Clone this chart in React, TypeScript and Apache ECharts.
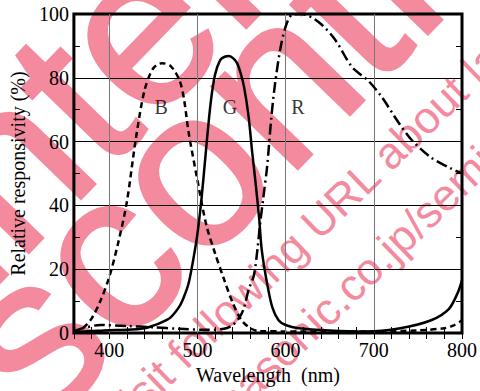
import React, { useEffect, useRef } from 'react';
import * as echarts from 'echarts';

// Blue channel (dashed)
const wlB = [360, 370, 380, 390, 400, 410, 420, 430, 440, 450, 460, 470, 480, 485, 490, 500, 510, 520, 530, 540, 550, 560, 570, 600, 650, 700, 750, 780, 790, 800];
const valB = [0.3, 1.5, 4.5, 10, 17.5, 28, 41, 60.5, 76, 83, 84.6, 83.6, 79, 73, 63, 48, 34, 25, 17, 9.5, 4, 1.5, 0.6, 0.5, 0.4, 0.5, 0.8, 1.5, 2.3, 4];

// Green channel (solid)
const wlG = [360, 380, 400, 420, 440, 450, 460, 470, 480, 485, 490, 495, 500, 505, 510, 515, 520, 526, 531, 536, 541, 545, 549, 553, 558, 562, 566, 570, 573, 579, 585, 592, 600, 615, 650, 690, 730, 765, 785, 795, 800];
const valG = [0.3, 0.6, 0.9, 1, 1.5, 2.3, 3.4, 5, 8.5, 11.5, 15.5, 22.5, 31, 43, 58, 72, 81, 85.6, 86.6, 86.8, 86, 84.6, 81.5, 77, 68, 57, 47, 36, 26, 15.6, 8, 4, 2.5, 1.5, 0.8, 0.5, 1.5, 4, 7.5, 12.5, 16.5];

// Red channel (dash-dot)
const wlR = [360, 370, 390, 420, 450, 480, 510, 530, 540, 548, 553, 558, 564, 568, 571, 575, 579, 584, 588, 594, 600, 607, 618, 637, 656, 675, 694, 709, 728, 743, 765, 788, 800];
const valR = [0.5, 1.5, 2.5, 2.2, 1.8, 1.3, 1, 1.3, 2.5, 5, 8, 13.5, 18, 26, 34, 43, 52, 68, 78, 89, 96, 99.7, 100, 97.6, 92, 83.5, 79, 74, 66, 60.5, 55, 51.5, 50];

// Curve labels
const labelNames = ['B', 'G', 'R'];
const labelX = [459, 537, 614];
const labelY = [71, 71, 71];

// Vertical grid lines
const vGrid = [400, 500, 600, 700];

const serif = '"Liberation Serif", "Times New Roman", serif';
const sans = '"Liberation Sans", Arial, sans-serif';
const pink = '#f48a9e';

const zip = (xs: number[], ys: number[]) => xs.map((x, i) => [x, ys[i]]);
const deg = Math.PI / 180;

const wmText = (text: string, x: number, y: number, angle: number, size: number, sw: number) => ({
  type: 'text', x, y, rotation: angle * deg, z: 1, silent: true,
  style: {
    text, fontSize: size, fontFamily: sans, fill: pink, stroke: sw > 0 ? pink : undefined, lineWidth: sw,
    textAlign: 'left', textVerticalAlign: 'middle', align: 'left', verticalAlign: 'middle',
  },
});

export default function App() {
  const ref = useRef<HTMLDivElement>(null);
  useEffect(() => {
    if (!ref.current) return;
    const chart = echarts.init(ref.current, undefined, { renderer: 'svg' });
    const tickInside = { show: true, inside: true, length: 6, lineStyle: { color: '#000', width: 1 } };
    const option: any = {
      animation: false,
      grid: { left: 73.5, right: 16, top: 14, bottom: 58, show: true, borderColor: '#000', borderWidth: 3, backgroundColor: 'transparent', z: 3 },
      xAxis: [
        {
          type: 'value', min: 360, max: 800, interval: 20, position: 'bottom', z: 3,
          axisLine: { show: false }, axisTick: tickInside,
          axisLabel: { formatter: (v: number) => (v % 100 === 0 ? String(v) : ''), color: '#000', fontFamily: serif, fontSize: 20, margin: 7 },
          splitLine: { show: false },
          name: 'Wavelength  (nm)', nameLocation: 'middle', nameGap: 32,
          nameTextStyle: { color: '#000', fontFamily: serif, fontSize: 20 },
        },
        {
          type: 'value', min: 360, max: 800, interval: 20, position: 'top', z: 3,
          axisLine: { show: false }, axisTick: tickInside, axisLabel: { show: false }, splitLine: { show: false },
        },
      ],
      yAxis: [
        {
          type: 'value', min: 0, max: 100, interval: 20, position: 'left', z: 3,
          axisLine: { show: false }, axisTick: tickInside,
          minorTick: { show: true, splitNumber: 2, length: 6, lineStyle: { color: '#000', width: 1 } },
          splitLine: { show: true, lineStyle: { color: '#000', width: 1.2 } },
          axisLabel: { color: '#000', fontFamily: serif, fontSize: 20, margin: 5 },
          name: 'Relative responsivity (%)', nameLocation: 'middle', nameGap: 35, nameRotate: 90,
          nameTextStyle: { color: '#000', fontFamily: serif, fontSize: 20 },
        },
        {
          type: 'value', min: 0, max: 100, interval: 10, position: 'right', z: 3,
          axisLine: { show: false }, axisTick: tickInside, axisLabel: { show: false }, splitLine: { show: false },
        },
      ],
      series: [
        {
          type: 'line', name: 'B', data: zip(wlB, valB), smooth: 0.3, showSymbol: false, z: 4,
          lineStyle: { color: '#000', width: 2.5, type: [6, 4] },
          markLine: {
            silent: true, symbol: ['none', 'none'], label: { show: false },
            lineStyle: { color: '#777', width: 1, type: 'solid' },
            data: vGrid.map((v) => ({ xAxis: v })),
          },
        },
        {
          type: 'line', name: 'G', data: zip(wlG, valG), smooth: 0.3, showSymbol: false, z: 5,
          lineStyle: { color: '#000', width: 2.5, type: 'solid' },
        },
        {
          type: 'line', name: 'R', data: zip(wlR, valR), smooth: 0.3, showSymbol: false, z: 5,
          lineStyle: { color: '#000', width: 2.5, type: [11, 4, 2, 4] },
        },
        {
          type: 'scatter', data: labelX.map((x, i) => [x, labelY[i], labelNames[i]]),
          symbol: 'circle', symbolSize: 1, itemStyle: { color: 'transparent' }, z: 6,
          label: { show: true, position: 'inside', formatter: (p: any) => p.data[2], color: '#000', fontFamily: serif, fontSize: 20 },
        },
      ],
      graphic: {
        elements: [
          wmText('Maintenance/', -290, 470, 46, 225, 3),
          wmText('Discontinued', -160, 530, 46, 225, 3),
          wmText('Please visit following URL about latest information.', 4.5, 524.5, 44, 44.5, 0),
          wmText('http://panasonic.co.jp/semicon/e-index.html', 107.6, 520.6, 44, 44.5, 0),
        ],
      },
    };
    chart.setOption(option);
    return () => chart.dispose();
  }, []);
  return <div ref={ref} style={{ position: 'fixed', left: 0, top: 0, width: 480, height: 391, background: '#fff' }} />;
}
